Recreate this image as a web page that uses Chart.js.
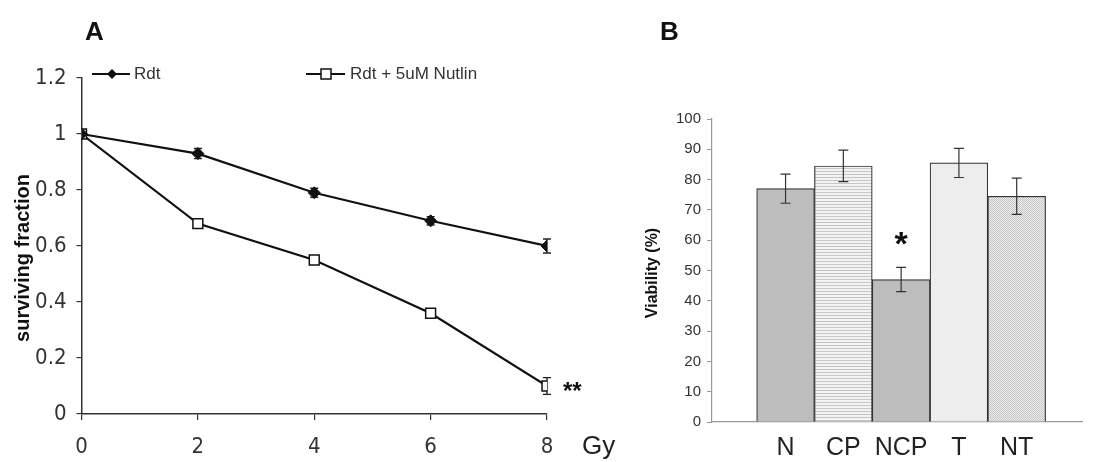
<!DOCTYPE html>
<html>
<head>
<meta charset="utf-8">
<script src="https://cdn.jsdelivr.net/npm/chart.js@4/dist/chart.umd.min.js"></script>
<style>
html, body { margin: 0; padding: 0; background: #fff; width: 1093px; height: 462px; overflow: hidden; }
.box { position: absolute; top: 0; height: 462px; }
#wa { left: 0; width: 620px; }
#wb { left: 560px; width: 533px; }
</style>
</head>
<body>
<div class="box" id="wa"><canvas id="ca"></canvas></div>
<div class="box" id="wb"><canvas id="cb"></canvas></div>
<script>
// panel A: survival after irradiation
const doses = [0, 2, 4, 6, 8];
const rdt = [1, 0.93, 0.79, 0.69, 0.60];
const rdtErr = [0, 0.018, 0.016, 0.015, 0.025];
const nutlin = [1, 0.68, 0.55, 0.36, 0.10];
const nutlinErr = [0, 0.01, 0.015, 0.01, 0.03];

// panel B: viability
const groups = ['N', 'CP', 'NCP', 'T', 'NT'];
const viability = [77, 84.5, 47, 85.5, 74.5];
const viabilityErr = [4.8, 5.2, 4, 4.8, 6];

const FONT = "'Liberation Sans', Arial, sans-serif";
const NARROW = "'Liberation Sans Narrow', 'Arial Narrow', 'DejaVu Sans Condensed', sans-serif";
Chart.defaults.font.family = FONT;
Chart.defaults.color = '#333';
Chart.defaults.animation = false;

function tile(w, h, draw) {
    const c = document.createElement('canvas');
    c.width = w;
    c.height = h;
    const g = c.getContext('2d');
    draw(g);
    return g.createPattern(c, 'repeat');
}

const stripes = tile(4, 3, g => {
    g.fillStyle = '#f3f3f3';
    g.fillRect(0, 0, 4, 3);
    g.fillStyle = '#c6c6c6';
    g.fillRect(0, 0, 4, 1);
});
const dots = tile(2, 2, g => {
    g.fillStyle = '#eeeeee';
    g.fillRect(0, 0, 2, 2);
    g.fillStyle = '#c4c4c4';
    g.fillRect(0, 0, 1, 1);
    g.fillRect(1, 1, 1, 1);
});
const barFills = ['#bdbdbd', stripes, '#bdbdbd', '#ededed', dots];

function drawErrors(chart) {
    const ctx = chart.ctx;
    const xs = chart.scales.x, ys = chart.scales.y;
    ctx.save();
    chart.data.datasets.forEach(ds => {
        ctx.strokeStyle = ds.errColor || '#222';
        ctx.lineWidth = ds.errWidth || 1.4;
        const cap = ds.capWidth || 4;
        ds.data.forEach((p, i) => {
            const e = ds.err[i];
            if (!e) return;
            const x = xs.getPixelForValue(p.x);
            const y1 = ys.getPixelForValue(p.y + e);
            const y2 = ys.getPixelForValue(p.y - e);
            ctx.beginPath();
            ctx.moveTo(x, y1); ctx.lineTo(x, y2);
            ctx.moveTo(x - cap, y1); ctx.lineTo(x + cap, y1);
            ctx.moveTo(x - cap, y2); ctx.lineTo(x + cap, y2);
            ctx.stroke();
        });
    });
    ctx.restore();
}

// line chart: bars go under the markers; bar chart: over the bars
const errorsUnder = { id: 'errorsUnder', beforeDatasetsDraw: drawErrors };
const errorsOver = { id: 'errorsOver', afterDatasetsDraw: drawErrors };

const labelsA = {
    id: 'labelsA',
    afterDraw(chart) {
        const ctx = chart.ctx;
        const xs = chart.scales.x, ys = chart.scales.y;
        ctx.save();
        ctx.fillStyle = '#111';
        ctx.textBaseline = 'alphabetic';
        ctx.font = 'bold 26px ' + FONT;
        ctx.fillText('A', 85, 40);

        // legend
        ctx.strokeStyle = '#111';
        ctx.lineWidth = 2.2;
        ctx.beginPath();
        ctx.moveTo(92, 74); ctx.lineTo(130, 74);
        ctx.moveTo(306, 74); ctx.lineTo(345, 74);
        ctx.stroke();
        ctx.fillStyle = '#111';
        ctx.beginPath();
        ctx.moveTo(112, 69); ctx.lineTo(117, 74); ctx.lineTo(112, 79); ctx.lineTo(107, 74);
        ctx.closePath();
        ctx.fill();
        ctx.fillStyle = '#fff';
        ctx.lineWidth = 1.5;
        ctx.fillRect(321, 69, 10, 10);
        ctx.strokeRect(321, 69, 10, 10);
        ctx.fillStyle = '#333';
        ctx.font = '17px ' + FONT;
        ctx.textBaseline = 'middle';
        ctx.fillText('Rdt', 134, 74);
        ctx.fillText('Rdt + 5uM Nutlin', 350, 74);

        // axis title
        ctx.save();
        ctx.translate(23, 258);
        ctx.rotate(-Math.PI / 2);
        ctx.textAlign = 'center';
        ctx.fillStyle = '#111';
        ctx.font = 'bold 20px ' + FONT;
        ctx.fillText('surviving fraction', 0, 0);
        ctx.restore();

        ctx.fillStyle = '#222';
        ctx.font = '26px ' + FONT;
        ctx.fillText('Gy', xs.getPixelForValue(8) + 35, 447);

        ctx.textBaseline = 'alphabetic';
        ctx.fillStyle = '#111';
        ctx.font = 'bold 24px ' + FONT;
        ctx.fillText('**', xs.getPixelForValue(8) + 16, ys.getPixelForValue(nutlin[4]) + 13);
        ctx.restore();
    }
};

const labelsB = {
    id: 'labelsB',
    afterDraw(chart) {
        const ctx = chart.ctx;
        const xs = chart.scales.x, ys = chart.scales.y;
        ctx.save();
        ctx.fillStyle = '#111';
        ctx.font = 'bold 26px ' + FONT;
        ctx.fillText('B', 100, 40);

        ctx.save();
        ctx.translate(93, 273);
        ctx.rotate(-Math.PI / 2);
        ctx.textAlign = 'center';
        ctx.textBaseline = 'middle';
        ctx.font = 'bold 16px ' + FONT;
        ctx.fillText('Viability (%)', 0, 0);
        ctx.restore();

        ctx.textAlign = 'center';
        ctx.font = 'bold 34px ' + FONT;
        ctx.fillText('*', xs.getPixelForValue(2), ys.getPixelForValue(viability[2] + viabilityErr[2]) - 12);
        ctx.restore();
    }
};

new Chart(document.getElementById('ca'), {
    type: 'line',
    data: {
        datasets: [{
            label: 'Rdt',
            data: doses.map((x, i) => ({ x, y: rdt[i] })),
            err: rdtErr,
            capWidth: 4,
            borderColor: '#111',
            borderWidth: 2.2,
            pointStyle: 'rectRot',
            pointRadius: 6,
            pointBackgroundColor: '#111',
            pointBorderColor: '#111',
            pointBorderWidth: 1,
            tension: 0,
        }, {
            label: 'Rdt + 5uM Nutlin',
            data: doses.map((x, i) => ({ x, y: nutlin[i] })),
            err: nutlinErr,
            capWidth: 4,
            borderColor: '#111',
            borderWidth: 2.2,
            pointStyle: 'rect',
            pointRadius: 7,
            pointBackgroundColor: '#fff',
            pointBorderColor: '#111',
            pointBorderWidth: 1.5,
            tension: 0,
        }]
    },
    options: {
        responsive: true,
        maintainAspectRatio: false,
        layout: { padding: { left: 0, top: 78, right: 73, bottom: 0 } },
        plugins: { legend: { display: false }, tooltip: { enabled: false } },
        scales: {
            x: {
                type: 'linear', min: 0, max: 8,
                ticks: { stepSize: 2, font: { size: 22, family: NARROW }, padding: 14, color: '#333' },
                grid: { drawOnChartArea: false, tickLength: 6, color: '#333', lineWidth: 1.2 },
                border: { color: '#333', width: 1.5 },
                afterFit(s) { s.height = 48; },
            },
            y: {
                min: 0, max: 1.2,
                ticks: {
                    stepSize: 0.2, font: { size: 22, family: NARROW }, padding: 10, color: '#333',
                    callback: v => String(Math.round(v * 10) / 10),
                },
                grid: { drawOnChartArea: false, tickLength: 5, color: '#333', lineWidth: 1.2 },
                border: { color: '#333', width: 1.5 },
                afterFit(s) { s.width = 81.5; },
            },
        },
    },
    plugins: [errorsUnder, labelsA],
});

new Chart(document.getElementById('cb'), {
    type: 'bar',
    data: {
        datasets: [{
            data: groups.map((g, i) => ({ x: i, y: viability[i] })),
            err: viabilityErr,
            capWidth: 5,
            errColor: '#333',
            errWidth: 1.2,
            backgroundColor: barFills,
            borderColor: '#333',
            borderWidth: 1.2,
            barPercentage: 1,
            categoryPercentage: 1,
        }]
    },
    options: {
        responsive: true,
        maintainAspectRatio: false,
        layout: { padding: { left: 0, top: 119, right: 0, bottom: 0 } },
        plugins: { legend: { display: false }, tooltip: { enabled: false } },
        scales: {
            x: {
                type: 'linear', min: -1.273, max: 5.13, offset: false,
                ticks: {
                    stepSize: 1, autoSkip: false, maxRotation: 0, font: { size: 25 }, color: '#222', padding: 11,
                    callback: v => Number.isInteger(v) ? (groups[v] || '') : '',
                },
                grid: { display: false, drawTicks: false, tickLength: 0 },
                border: { color: '#999', width: 1.2 },
                afterFit(s) { s.height = 40; },
            },
            y: {
                min: 0, max: 100,
                ticks: { stepSize: 10, font: { size: 15 }, padding: 6, color: '#333' },
                grid: { drawOnChartArea: false, tickLength: 5, color: '#999' },
                border: { color: '#999', width: 1.2 },
                afterFit(s) { s.width = 152; },
            },
        },
    },
    plugins: [errorsOver, labelsB],
});
</script>
</body>
</html>
